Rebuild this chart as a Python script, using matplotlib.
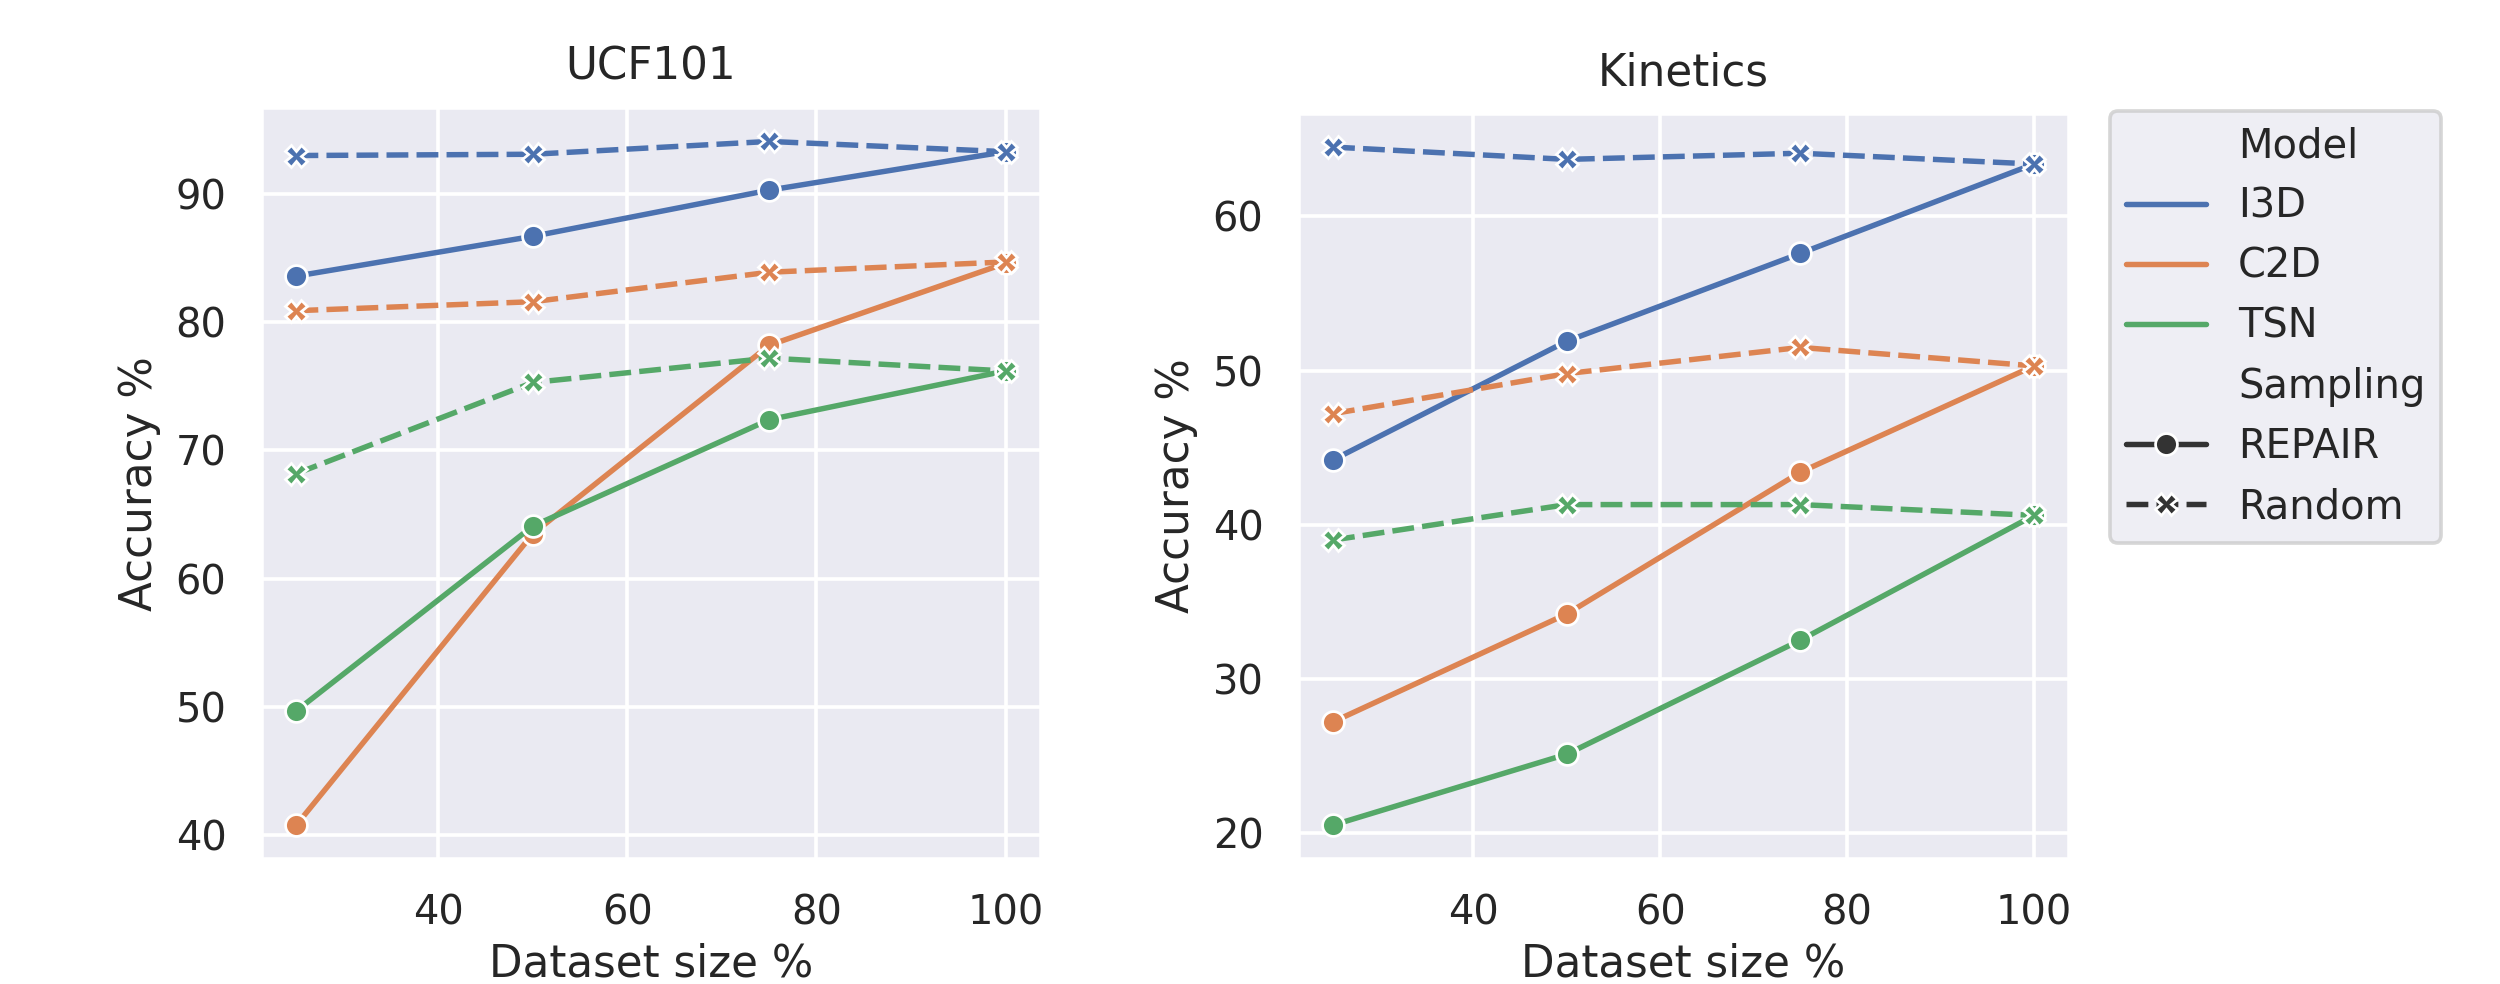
import matplotlib
matplotlib.use("Agg")
import matplotlib.pyplot as plt
import numpy as np
import pandas as pd
import seaborn as sns

# dataset size (%) on the x axis
sizes = [25, 50, 75, 100]
models = ["I3D", "C2D", "TSN"]
samplings = ["REPAIR", "Random"]

# UCF101 accuracy %
ucf_i3d_repair = [83.6, 86.7, 90.3, 93.3]
ucf_i3d_random = [93.0, 93.1, 94.1, 93.3]
ucf_c2d_repair = [40.8, 63.5, 78.2, 84.6]
ucf_c2d_random = [80.9, 81.6, 83.9, 84.7]
ucf_tsn_repair = [49.7, 64.1, 72.4, 76.2]
ucf_tsn_random = [68.2, 75.3, 77.2, 76.2]

# Kinetics accuracy %
kin_i3d_repair = [44.2, 51.9, 57.6, 63.4]
kin_i3d_random = [64.5, 63.7, 64.1, 63.4]
kin_c2d_repair = [27.2, 34.2, 43.4, 50.3]
kin_c2d_random = [47.2, 49.8, 51.5, 50.3]
kin_tsn_repair = [20.5, 25.1, 32.5, 40.6]
kin_tsn_random = [39.0, 41.3, 41.3, 40.6]


def make_frame(series):
    rows = []
    for (model, sampling), vals in series.items():
        for s, v in zip(sizes, vals):
            rows.append({"Dataset size %": s, "Accuracy %": v,
                         "Model": model, "Sampling": sampling})
    return pd.DataFrame(rows)


ucf = make_frame({
    ("I3D", "REPAIR"): ucf_i3d_repair, ("I3D", "Random"): ucf_i3d_random,
    ("C2D", "REPAIR"): ucf_c2d_repair, ("C2D", "Random"): ucf_c2d_random,
    ("TSN", "REPAIR"): ucf_tsn_repair, ("TSN", "Random"): ucf_tsn_random,
})
kin = make_frame({
    ("I3D", "REPAIR"): kin_i3d_repair, ("I3D", "Random"): kin_i3d_random,
    ("C2D", "REPAIR"): kin_c2d_repair, ("C2D", "Random"): kin_c2d_random,
    ("TSN", "REPAIR"): kin_tsn_repair, ("TSN", "Random"): kin_tsn_random,
})

sns.set_theme(style="darkgrid")
plt.rcParams["font.family"] = ["DejaVu Sans"]

DPI = 262
fig = plt.figure(figsize=(2500 / DPI, 984 / DPI), dpi=DPI)
ax1 = fig.add_axes([0.1044, 0.127, 0.3120, 0.764])
ax2 = fig.add_axes([0.5192, 0.127, 0.3084, 0.758])

sns.lineplot(data=ucf, x="Dataset size %", y="Accuracy %", hue="Model",
             style="Sampling", markers=True, hue_order=models,
             style_order=samplings, legend=False, ax=ax1)
sns.lineplot(data=kin, x="Dataset size %", y="Accuracy %", hue="Model",
             style="Sampling", markers=True, hue_order=models,
             style_order=samplings, legend=True, ax=ax2)

for ax, name in [(ax1, "UCF101"), (ax2, "Kinetics")]:
    ax.set_title(name, pad=7.5)
    ax.set_xticks([40, 60, 80, 100])
    ax.set_xlabel("Dataset size %", labelpad=2.5)

sns.move_legend(ax2, "upper left", bbox_to_anchor=(1.053, 1.003),
                borderaxespad=0, title=None)

fig.savefig("out.png", dpi=DPI)
